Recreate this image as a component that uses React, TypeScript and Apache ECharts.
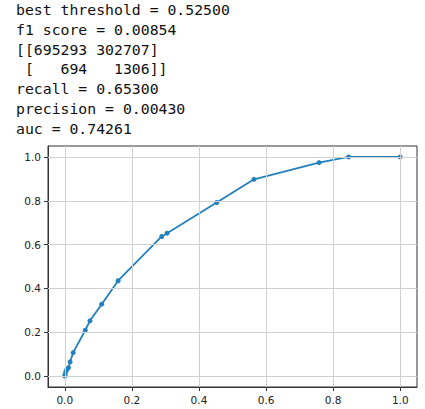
import React, { useEffect, useRef } from "react";
import * as echarts from "echarts";

const outputLines: string[] = [
  "best threshold = 0.52500",
  "f1 score = 0.00854",
  "[[695293 302707]",
  " [   694   1306]]",
  "recall = 0.65300",
  "precision = 0.00430",
  "auc = 0.74261",
];

const fpr: number[] = [0, 0.001, 0.003, 0.006, 0.011, 0.016, 0.025, 0.061, 0.075, 0.11, 0.159, 0.289, 0.305, 0.453, 0.564, 0.758, 0.846, 1.0];
const tpr: number[] = [0, 0.006, 0.02, 0.03, 0.038, 0.065, 0.107, 0.209, 0.252, 0.328, 0.435, 0.637, 0.652, 0.792, 0.898, 0.974, 1.0, 1.0];

const xTicks: number[] = [0, 0.2, 0.4, 0.6, 0.8, 1.0];
const yTicks: number[] = [0, 0.2, 0.4, 0.6, 0.8, 1.0];

export default function App() {
  const ref = useRef<HTMLDivElement>(null);
  useEffect(() => {
    if (!ref.current) return;
    const chart = echarts.init(ref.current, null, { renderer: "svg" });
    const tickFont = { fontFamily: "DejaVu Sans", fontSize: 10.5, color: "#222" };
    const gridLineData = [
      ...xTicks.map((v) => ({ xAxis: v })),
      ...yTicks.map((v) => ({ yAxis: v })),
    ];
    const lineColor = "#2280bb";
    const points = fpr.map((x, i) => [x, tpr[i]]);
    chart.setOption({
      animation: false,
      backgroundColor: "#fff",
      graphic: [
        {
          type: "text",
          x: 16,
          y: 0,
          silent: true,
          style: {
            text: outputLines.join("\n"),
            fontFamily: "DejaVu Sans Mono",
            fontSize: 14.8,
            lineHeight: 19.7,
            fill: "#111",
            verticalAlign: "top",
            align: "left",
          },
        },
      ],
      grid: {
        left: 48,
        top: 146,
        width: 369,
        height: 241,
        show: true,
        borderColor: "#333",
        borderWidth: 1,
        backgroundColor: "transparent",
      },
      xAxis: {
        type: "value",
        min: -0.05,
        max: 1.05,
        axisLine: { show: true, onZero: false, lineStyle: { color: "#333", width: 1 } },
        axisTick: { show: true, customValues: xTicks, length: 4, lineStyle: { color: "#333" } },
        axisLabel: {
          show: true,
          customValues: xTicks,
          margin: 7,
          formatter: (v: number) => v.toFixed(1),
          ...tickFont,
        },
        splitLine: { show: false },
      },
      yAxis: {
        type: "value",
        min: -0.05,
        max: 1.05,
        axisLine: { show: true, onZero: false, lineStyle: { color: "#333", width: 1 } },
        axisTick: { show: true, customValues: yTicks, length: 4, lineStyle: { color: "#333" } },
        axisLabel: {
          show: true,
          customValues: yTicks,
          margin: 7,
          formatter: (v: number) => v.toFixed(1),
          ...tickFont,
        },
        splitLine: { show: false },
      },
      series: [
        {
          type: "line",
          data: [],
          z: 1,
          silent: true,
          markLine: {
            silent: true,
            symbol: ["none", "none"],
            label: { show: false },
            lineStyle: { color: "#d0d0d0", width: 1, type: "solid" },
            emphasis: { disabled: true },
            data: gridLineData,
          },
        },
        {
          type: "line",
          z: 3,
          data: points,
          symbol: "none",
          lineStyle: { color: lineColor, width: 1.8 },
          emphasis: { disabled: true },
        },
        {
          type: "scatter",
          z: 4,
          data: points,
          symbol: "circle",
          symbolSize: 5,
          itemStyle: { color: lineColor, opacity: 1 },
          emphasis: { disabled: true },
        },
      ],
    });
    return () => chart.dispose();
  }, []);
  return (
    <div
      ref={ref}
      style={{ position: "absolute", left: 0, top: 0, width: 425, height: 409 }}
    />
  );
}
